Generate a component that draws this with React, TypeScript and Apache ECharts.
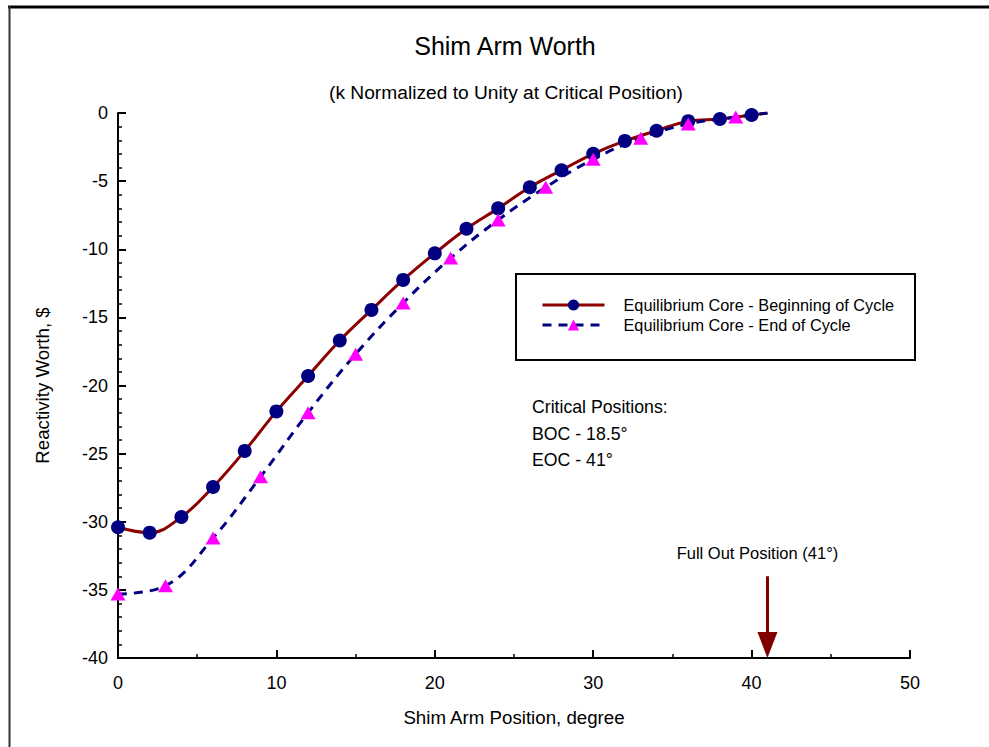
import React, { useEffect, useRef } from "react";
import * as echarts from "echarts";

// Shim arm position, degree (BOC markers)
const bocPositions = [0, 2, 4, 6, 8, 10, 12, 14, 16, 18, 20, 22, 24, 26, 28, 30, 32, 34, 36, 38, 40];
// Reactivity worth, $ (BOC)
const bocWorth = [-30.4, -30.8, -29.65, -27.45, -24.8, -21.9, -19.3, -16.7, -14.45, -12.25, -10.3, -8.5, -7.0, -5.45, -4.2, -3.0, -2.05, -1.3, -0.6, -0.44, -0.15];
// Shim arm position, degree (EOC markers)
const eocPositions = [0, 3, 6, 9, 12, 15, 18, 21, 24, 27, 30, 33, 36, 39];
// Reactivity worth, $ (EOC)
const eocWorth = [-35.3, -34.7, -31.2, -26.7, -22.0, -17.7, -13.95, -10.65, -7.85, -5.45, -3.4, -1.85, -0.8, -0.3];

const fullOutPosition = 41;
const fullOutWorth = 0;
const arrowTop = -34;
const arrowTip = -39.05;

const xTicks = [0, 10, 20, 30, 40, 50];
const yTicks = [-40, -35, -30, -25, -20, -15, -10, -5, 0];

const seriesNames = ["Equilibrium Core - Beginning of Cycle", "Equilibrium Core - End of Cycle"];
const criticalTexts = ["Critical Positions:", "BOC - 18.5°", "EOC - 41°"];

const FONT = "Liberation Sans, Arial, Helvetica, sans-serif";

export default function App() {
  const ref = useRef<HTMLDivElement | null>(null);

  useEffect(() => {
    document.body.style.margin = "0";
    if (!ref.current) return;
    const chart = echarts.init(ref.current, null, { renderer: "svg" });

    const bocData: any[] = bocPositions.map((x, i) => [x, bocWorth[i]]);
    bocData.push({ value: [fullOutPosition, fullOutWorth], symbolSize: 0 });
    const eocData: any[] = eocPositions.map((x, i) => [x, eocWorth[i]]);
    eocData.push({ value: [fullOutPosition, fullOutWorth], symbolSize: 0 });

    const option: any = {
      animation: false,
      backgroundColor: "#ffffff",
      textStyle: { fontFamily: FONT },
      grid: { left: 118, top: 113, right: 79, bottom: 89 },
      legend: {
        orient: "vertical",
        left: 541,
        top: 297,
        itemWidth: 62,
        itemHeight: 14,
        itemGap: 4,
        padding: 0,
        data: seriesNames,
        lineStyle: { width: 3 },
        textStyle: { fontFamily: FONT, fontSize: 16.3, color: "#000", padding: [0, 0, 0, 14] },
      },
      xAxis: {
        type: "value",
        min: xTicks[0],
        max: xTicks[xTicks.length - 1],
        interval: 10,
        name: "Shim Arm Position, degree",
        nameLocation: "middle",
        nameGap: 50,
        nameTextStyle: { fontFamily: FONT, fontSize: 18.7, color: "#000" },
        axisLine: { show: true, onZero: false, lineStyle: { color: "#000", width: 2 } },
        axisTick: { show: true, inside: true, length: 8, lineStyle: { color: "#000", width: 2 } },
        minorTick: { show: true, splitNumber: 2, length: 4, lineStyle: { color: "#000", width: 1.5 } },
        axisLabel: { fontFamily: FONT, fontSize: 18, color: "#000", margin: 16 },
        splitLine: { show: false },
      },
      yAxis: {
        type: "value",
        min: yTicks[0],
        max: yTicks[yTicks.length - 1],
        interval: 5,
        name: "Reactivity Worth, $",
        nameLocation: "middle",
        nameGap: 66,
        nameRotate: 90,
        nameTextStyle: { fontFamily: FONT, fontSize: 18.7, color: "#000" },
        axisLine: { show: true, onZero: false, lineStyle: { color: "#000", width: 2 } },
        axisTick: { show: true, inside: true, length: 8, lineStyle: { color: "#000", width: 2 } },
        minorTick: { show: true, splitNumber: 5, length: 4, lineStyle: { color: "#000", width: 1.5 } },
        axisLabel: { fontFamily: FONT, fontSize: 18, color: "#000", margin: 10 },
        splitLine: { show: false },
      },
      series: [
        {
          name: seriesNames[0],
          type: "line",
          smooth: 0.4,
          data: bocData,
          symbol: "circle",
          symbolSize: 14,
          itemStyle: { color: "#000080" },
          lineStyle: { color: "#8B0000", width: 3 },
          z: 2,
          markLine: {
            silent: true,
            symbol: ["none", "triangle"],
            symbolSize: [20, 26],
            lineStyle: { color: "#800000", width: 3, type: "solid" },
            label: {
              show: true,
              position: "start",
              distance: 15,
              offset: [-10, 0],
              formatter: "Full Out Position (41°)",
              fontFamily: FONT,
              fontSize: 16.5,
              color: "#000",
            },
            data: [[{ coord: [fullOutPosition, arrowTop] }, { coord: [fullOutPosition, arrowTip] }]],
          },
        },
        {
          name: seriesNames[1],
          type: "line",
          smooth: 0.4,
          data: eocData,
          symbol: "triangle",
          symbolSize: [15, 13],
          itemStyle: { color: "#FF00FF" },
          lineStyle: { color: "#000080", width: 3, type: [9, 7] },
          z: 3,
        },
      ],
      graphic: [
        {
          type: "line",
          shape: { x1: 8, y1: 7, x2: 989, y2: 7 },
          style: { stroke: "#000", lineWidth: 3 },
        },
        {
          type: "line",
          shape: { x1: 9.5, y1: 6, x2: 9.5, y2: 747 },
          style: { stroke: "#333", lineWidth: 2 },
        },
        {
          type: "text",
          x: 505,
          y: 46,
          style: {
            text: "Shim Arm Worth",
            fontFamily: FONT,
            fontSize: 25,
            fill: "#000",
            textAlign: "center",
            textVerticalAlign: "middle",
          },
        },
        {
          type: "text",
          x: 506,
          y: 92,
          style: {
            text: "(k Normalized to Unity at Critical Position)",
            fontFamily: FONT,
            fontSize: 19.2,
            fill: "#000",
            textAlign: "center",
            textVerticalAlign: "middle",
          },
        },
        {
          type: "rect",
          shape: { x: 516, y: 274, width: 399, height: 86 },
          style: { fill: "#fff", stroke: "#000", lineWidth: 2 },
          z: 1,
        },
        ...criticalTexts.map((t, i) => ({
          type: "text",
          x: 532,
          y: 407 + i * 26.5,
          style: {
            text: t,
            fontFamily: FONT,
            fontSize: 17.7,
            fill: "#000",
            textAlign: "left",
            textVerticalAlign: "middle",
          },
        })),
      ],
    };

    chart.setOption(option);
    return () => chart.dispose();
  }, []);

  return <div ref={ref} style={{ width: 989, height: 747 }} />;
}
